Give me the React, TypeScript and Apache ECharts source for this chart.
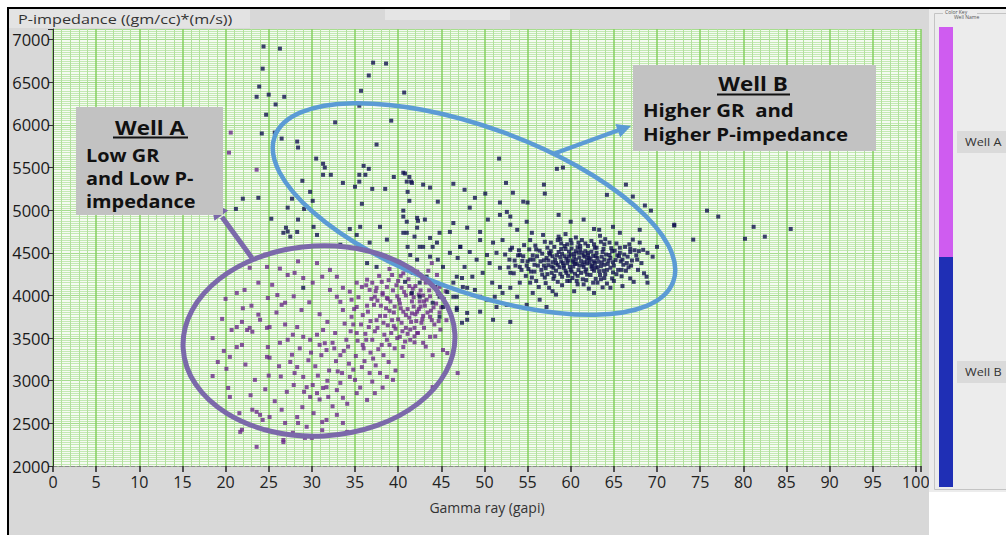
import React, { useEffect, useRef } from "react";
import * as echarts from "echarts";

// ---------- data: [Gamma ray (gapi), P-impedance ((gm/cc)*(m/s))] ----------
const wellA_scatter: number[][] = [
  [18.5,3055],[20.3,2915],[20.5,2810],[19.6,3725],[18.5,3500],[20.7,3595],[21.3,3630],[21.9,3690],[22.5,3595],[22.8,3620],
  [23.1,3575],[21.3,3395],[20.5,3280],[21.9,3420],[23.8,4150],[25.4,4125],[22.8,4325],[24.8,4335],[26.3,4315],[27.2,4240],
  [21.3,4030],[22.2,4065],[24.9,3970],[26.0,4005],[26.5,3890],[26.9,3915],[23.8,3775],[24.0,3715],[24.8,3620],[25.1,3630],
  [24.9,3395],[24.8,3280],[25.1,3270],[26.3,3445],[27.2,3480],[27.7,3305],[27.5,3220],[28.3,3160],[28.0,3090],[29.0,3045],
  [23.1,2660],[23.6,2635],[24.0,2600],[24.3,2540],[25.1,2575],[26.5,2660],[26.9,2505],[28.3,2575],[28.4,2505],[21.9,2425],
  [24.8,2425],[26.1,2385],[26.7,2305],[29.4,2925],[30.1,2950],[30.6,2855],[31.3,2915],[31.7,2925],[31.9,2810],[32.9,2890],
  [33.3,2975],[33.5,3090],[34.4,3045],[35.0,3010],[35.8,3160],[36.7,3090],[37.9,3090],[38.7,3045],[29.8,2810],[33.6,2800],
  [35.2,2855],[36.4,2775],[37.3,2855],[31.2,2515],[31.7,2540],[33.6,2505],[28.3,3630],[29.0,3515],[29.8,3480],[30.6,3540],
  [30.9,3420],[31.3,3595],[31.7,3360],[32.4,3445],[28.0,4265],[29.0,4205],[30.1,4150],[31.2,4220],[32.1,4300],[32.9,4220],
  [32.1,4065],[32.9,3985],[33.6,4090],[34.4,4045],[33.3,3925],[34.6,3950],[35.2,3865],[33.6,3830],[34.6,3750],[35.2,4150],
  [35.8,4100],[36.4,4185],[36.7,4065],[37.3,3985],[37.5,4090],[38.2,4030],[38.7,3970],[45.2,3360],[45.7,3325],[46.9,3090],
  [44.0,2925],[38.7,3480],[40.2,3515],[40.6,3395],[41.4,3480],[42.2,3560],[42.9,3445],[43.7,3515],
  [21.7,2400],[23.6,2225],[26.7,2280],[29.2,2330],[30.0,2330],[31.2,2420],[34.1,2400],
  [20.6,5910],[20.4,5675],[23.6,5475],[23.0,3880],[25.9,3800],[28.8,3830],[27.9,3990],[29.7,3920],[30.9,3780],
  [31.8,3690],[32.7,3560],[26.9,3660],[27.8,3540],[22.0,3850],[20.0,3960],[19.1,3220],[28.4,4400],[30.6,4380],[24.6,4480],
];

const wellA_middle: number[][] = [
  [29.6,3240],[30.4,3170],[31.1,3300],[32.0,3120],[32.8,3230],[33.7,3350],[34.3,3200],[35.1,3290],[35.9,3420],[36.8,3330],
  [28.6,3380],[29.9,3330],[31.5,3440],[32.6,3380],[34.0,3480],[30.7,3060],[31.8,3000],[33.0,3110],[34.8,3130],[36.1,3230],
  [37.4,3180],[38.9,3220],[39.7,3120],[40.5,3290],[27.9,2950],[29.1,2870],[30.9,2780],[32.4,2700],[34.1,2730],[35.6,2920],
  [37.0,2990],[38.2,2920],[39.4,3010],[26.4,3050],[27.1,2870],[28.9,2690],[30.2,2620],[29.4,2460],[27.8,2390],[32.9,2600],
  [22.3,3190],[23.4,3010],[24.6,2900],[25.7,2760],[26.2,3170],[25.0,3060],[22.9,2830],[21.6,2620],[20.1,3140],[19.8,3350],
];

const wellA_core: number[][] = [
  [40.2,3905],[41.1,3840],[41.8,3980],[42.6,3870],[43.3,3950],[39.5,3800],[40.7,4040],[42.0,4110],[43.8,3820],[44.4,3905],
  [39.1,3930],[40.0,3720],[41.5,3690],[42.9,3760],[43.6,4060],[38.6,3850],[39.8,4120],[41.2,4190],[42.4,4010],[44.0,4140],
  [37.9,3760],[38.8,3650],[40.5,3580],[41.9,3620],[42.7,3680],[43.9,3710],[44.8,3800],[45.3,3960],[38.2,4010],[39.4,4060],
  [40.9,3770],[41.6,3930],[42.2,3810],[43.1,3880],[44.6,4020],[37.2,3890],[36.8,3700],[37.6,3620],[38.4,3540],[39.7,3610],
  [40.3,3850],[41.3,3740],[42.5,3930],[43.4,3800],[44.2,3660],[36.5,3810],[37.4,4050],[38.9,4180],[40.6,4260],[41.7,4080],
  [39.2,3560],[40.8,3460],[41.9,3520],[37.0,3480],[38.1,3420],[36.2,3550],[35.7,3660],[36.9,3960],[39.9,3990],[42.8,4200],
  [43.5,4290],[41.0,4330],[39.0,4310],[37.8,4230],[36.3,4120],[35.4,3980],[34.9,3840],[35.9,3770],[38.5,3760],[42.1,3700],
  [44.9,3600],[45.6,3710],[44.3,3520],[39.6,3380],[38.3,3300],[37.1,3260],[36.0,3380],[35.3,3470],[34.5,3580],[33.8,3670],
  [40.4,3680],[41.4,3600],[42.3,3560],[43.0,3620],[39.3,3710],[38.0,3880],[40.1,3950],[41.8,3870],[43.7,3990],[42.6,4060],
  [39.0,3820],[40.9,4000],[42.0,3780],[41.3,4110],[40.0,4170],[38.7,4100],[43.2,4150],[44.5,4240],[37.5,3710],[36.6,3630],
  [40.6,3810],[41.6,3790],[42.4,3840],[43.0,3930],[40.4,4090],[41.5,4020],[42.9,4000],[44.1,3860],[39.6,3870],[38.8,3960],
  [37.6,3940],[38.3,3680],[39.5,3640],[40.9,3620],[42.8,3720],[43.7,3750],[44.7,3700],[45.0,3860],[39.9,3500],[41.1,3550],
  [37.3,3580],[36.3,3480],[35.2,3560],[34.2,3400],[33.3,3300],[34.8,3660],[36.4,3880],[37.0,4150],[38.1,4160],[39.3,4240],
  [40.3,4230],[42.2,4280],[43.9,4380],[44.8,4100],[45.5,4050],[41.9,3450],[43.2,3400],[44.0,3300],[39.0,3420],[37.7,3370],
];

const wellB_high: number[][] = [
  [24.4,6920],[26.3,6895],[24.3,6660],[23.9,6450],[23.6,6330],[25.0,6355],[26.8,6330],[25.8,6240],[24.7,6120],[24.2,5900],
  [25.7,5910],[26.5,5840],[22.0,5135],[23.8,5145],[21.2,5015],[37.1,6730],[38.6,6720],[36.6,6580],[35.7,6400],[40.7,6380],
  [35.5,6225],[39.2,6050],[32.7,6030],[28.3,5805],[28.4,5735],[37.5,5770],[30.5,5605],[31.3,5545],[31.5,5500],[32.2,5415],
  [31.3,5415],[28.9,5345],[36.0,5520],[36.6,5485],[35.5,5415],[36.2,5415],[33.6,5320],[35.0,5275],[35.5,5335],[37.0,5250],
  [38.5,5250],[39.5,5390],[40.6,5440],[41.3,5390],[41.5,5335],[41.0,5335],[41.1,5215],[41.3,5110],[27.7,5135],[27.2,5030],
  [29.1,5015],[30.1,5110],[29.8,5215],[35.8,5075],[40.6,4995],[40.6,4925],[28.4,4890],[27.0,4795],[27.2,4750],[30.2,4805],
  [34.4,4780],[35.6,4805],[37.9,4805],[42.3,4875],[42.2,4795],[25.3,4900],
];

const wellB_mid: number[][] = [
  [51.7,5605],[58.4,5485],[59.1,5500],[52.5,5320],[46.4,5310],[43.7,5265],[42.9,5300],[40.8,5430],[41.6,5320],[56.9,5300],
  [57.0,5195],[66.4,5300],[64.2,5180],[67.2,5160],[68.6,5055],[69.3,4995],[72.0,4820],[50.1,5195],[48.9,5145],[47.7,5240],
  [44.6,5100],[48.3,5030],[54.5,5100],[55.0,5090],[53.3,5205],[51.8,5090],[52.6,4980],[53.0,4925],[58.6,4945],[60.0,4865],
  [61.5,4890],[62.7,4780],[63.3,4770],[64.9,4805],[65.7,4735],[68.0,4770],[67.2,4655],[68.0,4620],[68.4,4535],[68.9,4500],
  [69.5,4455],[70.0,4570],[68.8,4220],[68.9,4150],
  [75.8,4995],[77.1,4925],[72.0,4830],[74.2,4655],[80.2,4665],[81.2,4805],[82.5,4690],[85.5,4780],
];

const wellB_band: number[][] = [
  [41.0,4865],[42.2,4910],[43.1,4890],[41.0,4735],[41.9,4690],[43.7,4675],[44.8,4735],[46.4,4850],[46.0,4745],[48.0,4795],
  [49.5,4745],[50.4,4890],[51.8,4945],[53.0,4830],[53.8,4770],[54.9,4865],[55.5,4735],[49.5,4650],[51.0,4620],[52.1,4650],
  [47.2,4570],[48.3,4510],[46.0,4500],[44.0,4570],[42.9,4570],[41.1,4570],[41.4,4475],[44.6,4420],[46.9,4440],[47.7,4335],
  [49.1,4420],[50.3,4475],[51.4,4500],[53.0,4535],[54.1,4475],[50.6,4380],[51.8,4325],[53.0,4265],[54.1,4335],[55.3,4420],
  [49.8,4265],[48.6,4220],[47.4,4205],[46.4,4150],[50.9,4150],[51.8,4100],[53.0,4090],[54.1,4150],[55.3,4150],[55.6,4030],
  [53.8,3985],[52.1,4030],[51.2,3985],[56.4,3950],[57.2,3865],[54.9,3890],[52.6,3890],[51.4,3865],[50.3,3950],[49.5,3985],
  [48.9,4065],[48.0,4090],[46.8,3985],[45.7,4040],[44.8,3985],[44.3,4100],[43.3,4220],[42.5,4150],[41.7,4265],[40.8,4160],
  [41.6,4030],[42.5,3985],[44.0,3915],[45.2,3865],[46.8,3855],[48.0,3795],[49.5,3810],[44.8,3750],[51.0,3715],[53.0,3690],
  [47.4,3680],
  [26.7,4735],[27.5,4690],[28.3,4745],[30.6,4710],[33.3,4595],[35.2,4710],[36.7,4620],[38.7,4655],[40.6,4735],[42.5,4570],
  [44.5,4620],[47.2,4570],[40.2,4380],[42.2,4420],[43.7,4455],[45.2,4335],[46.8,4220],[47.5,4100],[46.4,3985],[46.8,3830],
  [48.0,3715],[37.5,4335],[36.4,4380],[29.0,4090],
];

const wellB_core: number[][] = [
  [58.2,4420],[59.1,4380],[60.4,4455],[61.2,4402],[62.5,4350],[57.6,4480],[59.8,4515],[60.9,4298],[61.7,4520],[63.1,4440],
  [58.7,4330],[59.5,4265],[60.1,4610],[62.0,4470],[63.6,4388],[56.9,4412],[57.8,4265],[58.9,4545],[61.5,4335],[62.8,4560],
  [64.1,4480],[64.6,4325],[56.2,4350],[57.3,4560],[58.0,4195],[59.3,4460],[60.7,4372],[61.9,4245],[63.3,4285],[65.2,4415],
  [55.6,4470],[56.7,4245],[57.9,4390],[59.6,4600],[60.2,4205],[61.1,4580],[62.3,4425],[63.8,4545],[64.9,4270],[66.1,4360],
  [55.1,4310],[56.4,4525],[57.1,4145],[58.5,4650],[59.9,4335],[60.6,4520],[61.4,4190],[62.7,4290],[63.9,4205],[65.7,4500],
  [58.4,4470],[59.7,4410],[60.3,4340],[61.6,4455],[62.2,4385],[63.0,4500],[64.4,4410],[57.4,4355],[58.8,4255],[60.0,4480],
  [61.0,4445],[62.6,4465],[63.5,4345],[64.7,4555],[65.5,4300],[66.6,4455],[54.4,4405],[55.9,4585],[57.0,4630],[58.1,4570],
  [59.2,4325],[60.5,4255],[61.8,4305],[62.9,4195],[64.2,4140],[65.9,4225],[67.1,4410],[54.8,4230],[56.0,4170],[57.5,4090],
  [59.0,4120],[60.8,4130],[62.1,4080],[63.7,4095],[65.0,4170],[66.4,4290],[67.4,4530],[58.6,4690],[60.6,4680],[62.4,4640],
  [64.0,4660],[65.3,4610],[66.8,4600],[55.3,4650],[56.8,4710],[59.4,4720],[61.3,4650],[63.4,4700],[57.7,4520],[59.0,4490],
  [60.2,4410],[61.4,4360],[62.4,4515],[63.2,4395],[64.5,4475],[58.3,4380],[59.4,4545],[60.8,4565],[62.0,4580],[57.2,4440],
  [56.5,4400],[58.0,4325],[59.7,4230],[61.2,4265],[62.9,4330],[64.3,4370],[65.8,4400],[66.9,4510],[55.8,4280],[57.0,4210],
  [58.5,4160],[60.1,4280],[61.9,4375],[63.6,4455],[65.1,4525],[66.3,4570],[67.6,4470],[68.2,4380],[67.8,4300],[66.9,4200],
  [56.1,4460],[57.5,4500],[59.6,4380],[60.9,4500],[62.3,4240],[63.8,4290],[64.8,4200],[65.6,4460],[58.9,4610],[61.7,4610],
  [54.0,4530],[55.0,4400],[53.6,4350],[53.9,4470],[54.6,4590],[55.5,4210],[56.3,4100],[57.9,4050],[59.6,4170],[61.5,4130],
  [63.1,4150],[64.6,4090],[60.4,4050],[58.3,4010],[62.7,4030],[66.0,4110],[67.3,4160],[68.5,4260],[52.9,4420],[53.2,4560],
  [59.5,4430],[60.3,4390],[61.0,4350],[61.9,4420],[62.7,4400],[58.8,4450],[60.6,4420],[61.5,4470],[62.9,4460],[63.9,4420],
  [59.2,4350],[60.0,4300],[60.8,4230],[61.7,4280],[62.5,4310],[63.4,4240],[64.2,4300],[65.0,4350],[65.9,4300],[66.5,4380],
  [57.1,4320],[57.9,4460],[58.6,4510],[59.3,4580],[60.1,4550],[61.1,4540],[62.0,4500],[63.0,4560],[63.9,4600],[64.8,4520],
  [56.0,4540],[56.7,4490],[57.4,4410],[58.3,4290],[59.0,4220],[59.9,4170],[60.7,4170],[61.8,4180],[62.6,4150],[63.5,4190],
  [64.0,4250],[65.3,4250],[66.2,4480],[67.0,4350],[67.7,4420],[55.2,4540],[55.8,4360],[56.6,4300],[57.3,4250],[58.1,4230],
  [58.9,4400],[60.4,4490],[61.3,4500],[62.1,4440],[62.8,4380],[63.7,4510],[64.6,4440],[65.4,4470],[66.0,4420],[66.7,4330],
  [57.7,4620],[58.8,4660],[60.0,4650],[60.9,4620],[62.7,4600],[63.5,4630],[64.5,4620],[65.7,4560],[66.9,4550],[67.9,4520],
  [54.9,4350],[55.4,4280],[54.3,4300],[53.4,4260],[52.8,4330],[52.4,4480],[53.5,4410],[54.5,4460],[55.7,4420],[56.9,4350],
  [59.8,4460],[60.5,4370],[61.6,4390],[62.4,4340],[63.1,4330],[63.9,4360],[64.9,4390],[59.4,4290],[58.5,4360],[57.8,4340],
];

const wellNames = ["Well A", "Well B"];
const wellColors = ["#cf5cf0", "#1f2fb5"];
const pointColors = ["#6a2a88", "#111150"];
const xName = "Gamma ray (gapi)";
const yName = "P-impedance ((gm/cc)*(m/s))";

const FONT = "Open Sans";

function txt(text: string, x: number, y: number, size: number, opts: any = {}) {
  return {
    type: "text",
    x,
    y,
    scaleX: opts.scaleX ?? 1,
    z: opts.z ?? 120,
    style: {
      text,
      fontFamily: FONT,
      fontSize: size,
      fontWeight: opts.bold ? "bold" : "normal",
      fill: opts.color ?? "#111",
      textAlign: opts.align ?? "left",
      textVerticalAlign: "middle",
    },
  };
}

export default function App() {
  const ref = useRef<HTMLDivElement>(null);

  useEffect(() => {
    document.body.style.margin = "0";
    if (!ref.current) return;
    const chart = echarts.init(ref.current, undefined, { renderer: "svg" });

    const blue = "#5b9bd5";
    const purple = "#7b69aa";

    const graphic: any[] = [
      // frame
      { type: "rect", shape: { x: 0, y: 0, width: 1006, height: 7 }, style: { fill: "#fff" }, z: 1 },
      { type: "rect", shape: { x: 0, y: 0, width: 7, height: 535 }, style: { fill: "#fff" }, z: 1 },
      { type: "rect", shape: { x: 7, y: 7, width: 999, height: 2 }, style: { fill: "#000" }, z: 2 },
      { type: "rect", shape: { x: 7, y: 7, width: 2, height: 528 }, style: { fill: "#000" }, z: 2 },
      // header boxes
      { type: "rect", shape: { x: 9, y: 9, width: 241, height: 19 }, style: { fill: "#e3e3e3" }, z: 1 },
      { type: "rect", shape: { x: 385, y: 9, width: 125, height: 11 }, style: { fill: "#e5e5e5" }, z: 1 },
      txt(yName, 18, 19, 13.5, { scaleX: 1.2, color: "#333", z: 3 }),
      // right legend panel
      { type: "rect", shape: { x: 929, y: 9, width: 77, height: 483 }, style: { fill: "#ececec" }, z: 1 },
      { type: "rect", shape: { x: 929, y: 492, width: 77, height: 43 }, style: { fill: "#fff" }, z: 1 },
      { type: "rect", shape: { x: 934.5, y: 13.5, width: 80, height: 476 }, style: { fill: "none", stroke: "#c4c4c4", lineWidth: 1 }, z: 2 },
      { type: "rect", shape: { x: 943, y: 10, width: 34, height: 8 }, style: { fill: "#ececec" }, z: 3 },
      txt("Color Key", 945, 12, 5, { color: "#555", z: 4 }),
      txt("Well Name", 954, 17, 5, { color: "#555", z: 4 }),
      { type: "rect", shape: { x: 939, y: 27, width: 14, height: 230 }, style: { fill: wellColors[0] }, z: 3 },
      { type: "rect", shape: { x: 939, y: 257, width: 14, height: 230 }, style: { fill: wellColors[1] }, z: 3 },
      { type: "rect", shape: { x: 957, y: 131, width: 49, height: 22 }, style: { fill: "#dadada" }, z: 3 },
      { type: "rect", shape: { x: 957, y: 361, width: 49, height: 22 }, style: { fill: "#dadada" }, z: 3 },
      txt(wellNames[0], 965, 142, 11.5, { scaleX: 1.1, color: "#333", z: 4 }),
      txt(wellNames[1], 965, 372, 11.5, { scaleX: 1.1, color: "#333", z: 4 }),
      // ellipses
      {
        type: "ellipse", x: 474, y: 209, rotation: (-20 * Math.PI) / 180,
        shape: { cx: 0, cy: 0, rx: 212, ry: 82 },
        style: { fill: "none", stroke: blue, lineWidth: 4.5 }, z: 90,
      },
      {
        type: "ellipse", x: 319, y: 341, rotation: (3 * Math.PI) / 180,
        shape: { cx: 0, cy: 0, rx: 136, ry: 95 },
        style: { fill: "none", stroke: purple, lineWidth: 5 }, z: 90,
      },
      // arrows
      { type: "line", shape: { x1: 553, y1: 154, x2: 619, y2: 130 }, style: { stroke: blue, lineWidth: 4 }, z: 90 },
      { type: "polygon", shape: { points: [[631, 126], [620.2, 137.3], [615.4, 124.1]] }, style: { fill: blue }, z: 90 },
      { type: "line", shape: { x1: 252, y1: 258, x2: 222, y2: 217 }, style: { stroke: purple, lineWidth: 5 }, z: 90 },
      { type: "polygon", shape: { points: [[211, 202], [228.3, 210.4], [214.4, 220.8]] }, style: { fill: purple }, z: 90 },
      // Well A box
      { type: "rect", shape: { x: 76, y: 107, width: 147, height: 108 }, style: { fill: "#c2c2c2" }, z: 100 },
      txt("Well A", 150, 127, 20, { bold: true, align: "center", scaleX: 1.12 }),
      { type: "line", shape: { x1: 113, y1: 137.5, x2: 188, y2: 137.5 }, style: { stroke: "#111", lineWidth: 2 }, z: 120 },
      txt("Low GR", 86, 155, 17, { bold: true, scaleX: 1.17 }),
      txt("and Low P-", 86, 178, 17, { bold: true, scaleX: 1.17 }),
      txt("impedance", 86, 201, 17, { bold: true, scaleX: 1.17 }),
      // Well B box
      { type: "rect", shape: { x: 633, y: 65, width: 243, height: 86 }, style: { fill: "#c2c2c2" }, z: 100 },
      txt("Well B", 753, 83, 20, { bold: true, align: "center", scaleX: 1.12 }),
      { type: "line", shape: { x1: 717, y1: 94.5, x2: 790, y2: 94.5 }, style: { stroke: "#111", lineWidth: 2 }, z: 120 },
      txt("Higher GR  and", 643, 110, 17, { bold: true, scaleX: 1.2 }),
      txt("Higher P-impedance", 643, 134, 17, { bold: true, scaleX: 1.2 }),
    ];

    const wellA = [...wellA_scatter, ...wellA_middle, ...wellA_core];
    const wellB = [...wellB_high, ...wellB_mid, ...wellB_band, ...wellB_core];

    chart.setOption({
      animation: false,
      backgroundColor: "#d8d8d8",
      grid: {
        left: 53, right: 85, top: 29, bottom: 69,
        show: true, backgroundColor: "#f5fbf2", borderWidth: 0,
      },
      xAxis: {
        type: "value", min: 0, max: 100.6, interval: 5,
        name: xName, nameLocation: "middle", nameGap: 34,
        nameTextStyle: { fontFamily: FONT, fontSize: 14, color: "#333" },
        axisLine: { show: true, onZero: false, lineStyle: { color: "#8a8a8a", width: 1, type: "dashed" } },
        axisTick: { show: true, length: 6, lineStyle: { color: "#222", width: 1.5 } },
        axisLabel: {
          formatter: (v: number) => (Math.abs(v % 5) < 1e-9 ? String(v) : ""),
          fontFamily: FONT, fontSize: 16, color: "#222", margin: 8,
        },
        splitLine: { show: true, lineStyle: { color: "#84cf60", width: 1.5 } },
        minorTick: { show: false, splitNumber: 5 },
        minorSplitLine: { show: true, lineStyle: { color: "#b2e09d", width: 1 } },
      },
      yAxis: {
        type: "value", min: 2000, max: 7125, interval: 500,
        axisLine: { show: true, onZero: false, lineStyle: { color: "#333", width: 1 } },
        axisTick: { show: true, length: 5, lineStyle: { color: "#333" } },
        axisLabel: {
          formatter: (v: number) => (v % 500 === 0 ? String(v) : ""),
          fontFamily: FONT, fontSize: 16.5, color: "#1a1a1a", margin: 3,
        },
        splitLine: { show: true, lineStyle: { color: "#a6dc8e", width: 1 } },
        minorTick: { show: false, splitNumber: 20 },
        minorSplitLine: { show: true, lineStyle: { color: "#c3e9b3", width: 1 } },
      },
      series: [
        {
          name: wellNames[0], type: "scatter", data: wellA,
          symbol: "rect", symbolSize: 4,
          itemStyle: { color: pointColors[0] }, z: 3,
        },
        {
          name: wellNames[1], type: "scatter", data: wellB,
          symbol: "rect", symbolSize: 4,
          itemStyle: { color: pointColors[1] }, z: 4,
        },
      ],
      graphic,
    });

    return () => chart.dispose();
  }, []);

  return <div ref={ref} style={{ width: 1006, height: 535 }} />;
}
